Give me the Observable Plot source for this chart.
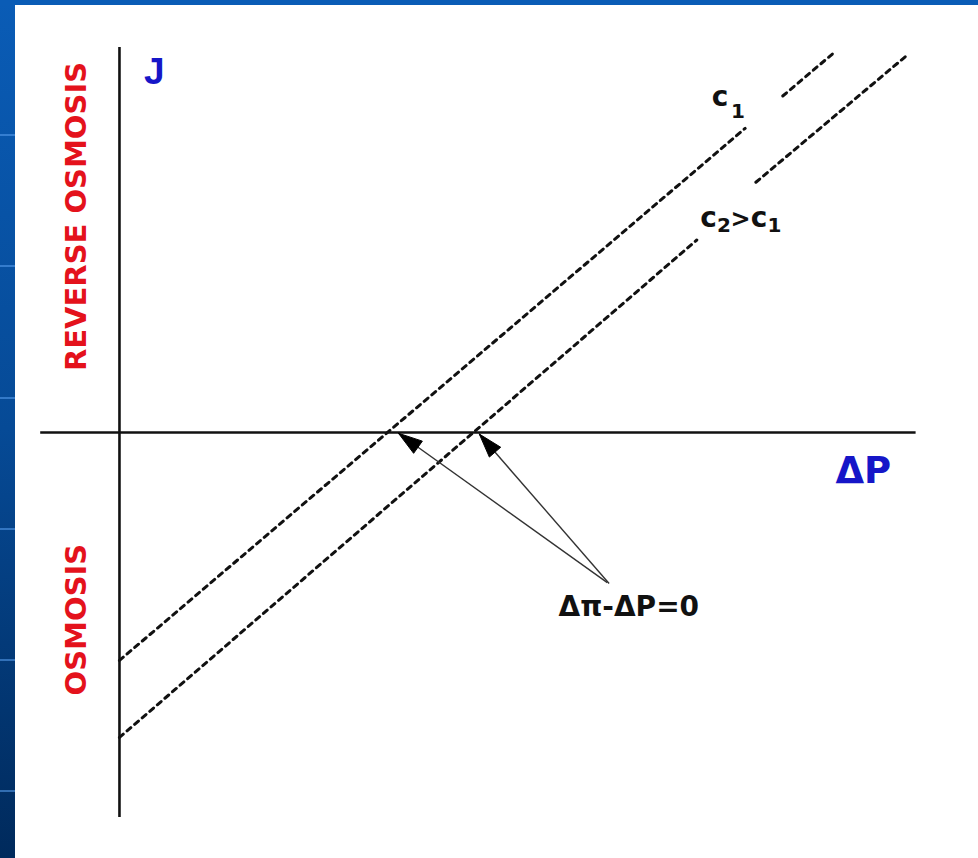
<!DOCTYPE html>
<html>
<head>
<meta charset="utf-8">
<script src="https://cdn.jsdelivr.net/npm/d3@7"></script>
<script src="https://cdn.jsdelivr.net/npm/@observablehq/plot@0.6"></script>
<style>
  html, body { margin: 0; padding: 0; background: #ffffff; }
  #page { position: relative; width: 978px; height: 858px; overflow: hidden; background: #ffffff; }
  #leftbar { position: absolute; left: 0; top: 0; width: 15px; height: 858px;
    background: linear-gradient(to bottom, #0a5cb6 0%, #064a96 50%, #002a5c 100%); }
  #topbar { position: absolute; left: 0; top: 0; width: 978px; height: 5px; background: #0a5cb6; }
  .stripe { position: absolute; left: 0; width: 15px; height: 2px; background: rgba(90,160,240,0.55); }
  #chart { position: absolute; left: 15px; top: 5px; }
</style>
</head>
<body>
<div id="page">
  <div id="leftbar"></div>
  <div id="topbar"></div>
  <div id="chart"></div>
</div>
<script>
// ---- data (ΔP on x, J on y) ----
const deltaPDomain = [-0.88, 8.9];
const jDomain = [-5, 5];

// dashed line c1 (two segments, broken by the "c1" label)
const c1Segments = [
  [[0, -2.96], [6.99, 3.95]],
  [[7.41, 4.37], [7.99, 4.94]]
];
// dashed line c2 > c1 (two segments, broken by the "c2>c1" label)
const c2Segments = [
  [[0, -3.96], [6.45, 2.50]],
  [[7.11, 3.25], [8.82, 4.92]]
];
// arrows from the label to the zero-flux points (tail -> tip)
const arrowTails = [[5.45, -1.95], [5.47, -1.96]];
const arrowTips  = [[3.117, -0.01], [4.02, -0.02]];

// labels
const jLabel = [{text: "J", x: 0.39, y: 4.52}];
const deltaPLabel = [{text: "ΔP", x: 8.31, y: -0.65}];
const curveGlyphs = [
  {text: "c", x: 6.709, y: 4.234},
  {text: "c", x: 6.581, y: 2.675},
  {text: "c", x: 7.145, y: 2.675}
];
const gtGlyph = [{text: ">", x: 6.938, y: 2.675}];
const subGlyphs = [
  {text: "1", x: 6.91,  y: 4.09},
  {text: "2", x: 6.754, y: 2.60},
  {text: "1", x: 7.318, y: 2.60}
];
const noteLabel = [{text: "Δπ-ΔP=0", x: 5.69, y: -2.377}];
const regionLabels = [
  {text: "REVERSE OSMOSIS", x: -0.48, y: 2.805},
  {text: "OSMOSIS", x: -0.48, y: -2.43}
];

// ---- layout ----
const W = 963, H = 853;
const mL = 25.2, mR = 62.4, mT = 42, mB = 41;
const kx = (W - mL - mR) / (deltaPDomain[1] - deltaPDomain[0]);
const ky = (H - mT - mB) / (jDomain[1] - jDomain[0]);

// tables built from the arrays
const lineRows = [];
c1Segments.forEach((seg, i) => seg.forEach(([x, y]) => lineRows.push({x, y, id: "c1-" + i})));
c2Segments.forEach((seg, i) => seg.forEach(([x, y]) => lineRows.push({x, y, id: "c2-" + i})));

const arrowRows = arrowTails.map((t, i) => ({x1: t[0], y1: t[1], x2: arrowTips[i][0], y2: arrowTips[i][1]}));

// filled arrowheads (computed in screen proportions, stored in data units)
const headLen = 24, headWidth = 15;
const headRows = [];
arrowRows.forEach((a, i) => {
  const dx = (a.x2 - a.x1) * kx, dy = -(a.y2 - a.y1) * ky;
  const len = Math.hypot(dx, dy);
  const ux = dx / len, uy = dy / len;
  const nx = -uy, ny = ux;
  const bx = -ux * headLen, by = -uy * headLen;
  const pts = [
    [0, 0],
    [bx + nx * headWidth / 2, by + ny * headWidth / 2],
    [bx - nx * headWidth / 2, by - ny * headWidth / 2],
    [0, 0]
  ];
  pts.forEach(([px, py]) => headRows.push({x: a.x2 + px / kx, y: a.y2 - py / ky, id: i}));
});

const chart = Plot.plot({
  width: W, height: H,
  marginLeft: mL, marginRight: mR, marginTop: mT, marginBottom: mB,
  x: {domain: deltaPDomain, axis: null},
  y: {domain: jDomain, axis: null},
  style: {background: "white", overflow: "visible"},
  marks: [
    Plot.ruleY([0], {x1: deltaPDomain[0], x2: deltaPDomain[1], stroke: "#111", strokeWidth: 2.6}),
    Plot.ruleX([0], {y1: jDomain[0], y2: jDomain[1], stroke: "#111", strokeWidth: 2.6}),
    Plot.line(lineRows, {x: "x", y: "y", z: "id", stroke: "#111", strokeWidth: 3, strokeDasharray: "5,5", curve: "linear"}),
    Plot.link(arrowRows, {x1: "x1", y1: "y1", x2: "x2", y2: "y2", stroke: "#333", strokeWidth: 1.4}),
    Plot.line(headRows, {x: "x", y: "y", z: "id", stroke: "#000", fill: "#000", strokeWidth: 1}),
    Plot.text(jLabel, {x: "x", y: "y", text: "text", fill: "#1616c8", fontSize: 37, fontWeight: "bold",
      fontFamily: "Liberation Sans, Arial, sans-serif", textAnchor: "middle", lineAnchor: "bottom"}),
    Plot.text(deltaPLabel, {x: "x", y: "y", text: "text", fill: "#1616c8", fontSize: 37, fontWeight: "bold",
      fontFamily: "DejaVu Sans, sans-serif", textAnchor: "middle", lineAnchor: "bottom"}),
    Plot.text(curveGlyphs, {x: "x", y: "y", text: "text", fill: "#111", fontSize: 28, fontWeight: "bold",
      fontFamily: "DejaVu Sans, sans-serif", textAnchor: "middle", lineAnchor: "bottom"}),
    Plot.text(gtGlyph, {x: "x", y: "y", text: "text", fill: "#111", fontSize: 24, fontWeight: "bold",
      fontFamily: "DejaVu Sans, sans-serif", textAnchor: "middle", lineAnchor: "bottom"}),
    Plot.text(subGlyphs, {x: "x", y: "y", text: "text", fill: "#111", fontSize: 20, fontWeight: "bold",
      fontFamily: "DejaVu Sans, sans-serif", textAnchor: "middle", lineAnchor: "bottom"}),
    Plot.text(noteLabel, {x: "x", y: "y", text: "text", fill: "#111", fontSize: 28, fontWeight: "bold",
      fontFamily: "DejaVu Sans, sans-serif", textAnchor: "middle", lineAnchor: "bottom"}),
    Plot.text(regionLabels, {x: "x", y: "y", text: "text", fill: "#e4121c", fontSize: 29, fontWeight: "bold",
      fontFamily: "DejaVu Sans, sans-serif", textAnchor: "middle", lineAnchor: "middle", rotate: -90})
  ]
});
document.getElementById("chart").appendChild(chart);

// decorative stripes on the slide's left bar
[135, 266, 398, 529, 660, 791].forEach(y => {
  const s = document.createElement("div");
  s.className = "stripe";
  s.style.top = (y - 1) + "px";
  document.getElementById("page").appendChild(s);
});
</script>
</body>
</html>
